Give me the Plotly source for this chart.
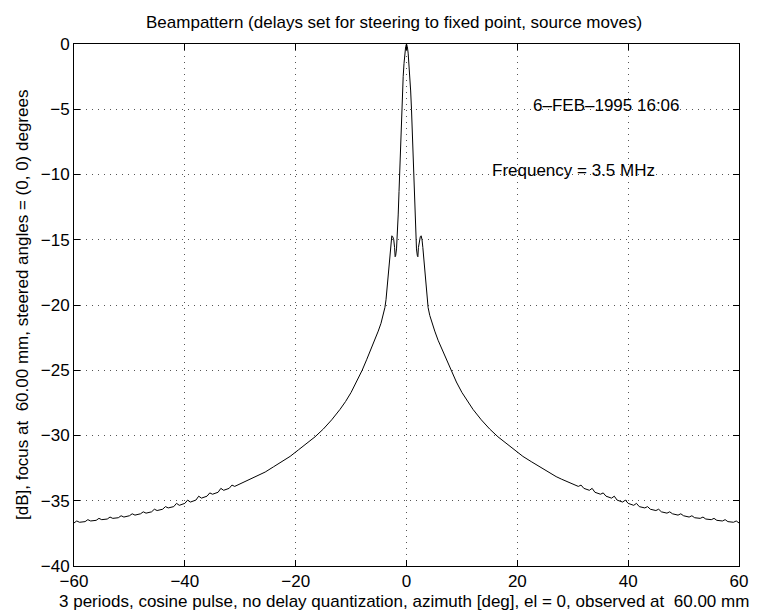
import plotly.graph_objects as go

# Left half of the beampattern (azimuth in degrees, level in dB)
az_left = [-60, -59.5, -59, -58, -57.5, -57, -56, -55.5, -55, -54, -53.5, -53, -52, -51.5, -51,
           -50, -49.5, -49, -48, -47.5, -47, -46, -45.5, -45, -44, -43.5, -43, -42, -41.5, -41,
           -40, -39.5, -39, -38, -37.5, -37, -36, -35.5, -35, -34, -33.5, -33, -32, -31.5, -31,
           -30, -29, -28, -27, -25.5, -24, -22.5, -21, -19.5, -18, -16.5, -15, -13.5, -12, -11,
           -10, -9, -8, -7.2, -6.4, -5.7, -5.1, -4.6, -4.2, -3.9, -3.7, -3.5, -3.3, -3.1, -2.95,
           -2.8, -2.65, -2.5, -2.3, -2.15, -2.05, -1.95, -1.8, -1.65, -1.5, -1.35, -1.2, -1.05,
           -0.9, -0.75, -0.6, -0.45, -0.3, -0.15]
db_left = [-36.7, -36.55, -36.65, -36.6, -36.45, -36.55, -36.5, -36.35, -36.45, -36.4, -36.25,
           -36.35, -36.3, -36.15, -36.25, -36.15, -36.0, -36.1, -36.0, -35.85, -35.95, -35.85,
           -35.65, -35.75, -35.65, -35.45, -35.55, -35.45, -35.2, -35.35, -35.2, -34.95, -35.1,
           -34.95, -34.65, -34.8, -34.65, -34.4, -34.5, -34.35, -34.05, -34.2, -34.05, -33.8,
           -33.9, -33.7, -33.55, -33.35, -33.15, -32.8, -32.4, -32.0, -31.6, -31.1, -30.6, -30.1,
           -29.5, -28.8, -28.0, -27.4, -26.7, -25.9, -25.0, -24.2, -23.4, -22.7, -22.0, -21.4,
           -20.8, -20.2, -19.6, -18.7, -17.6, -16.4, -15.6, -15.0, -14.7, -14.75, -15.0, -15.6,
           -16.3, -16.2, -15.7, -14.7, -13.1, -11.3, -9.2, -7.0, -5.0, -3.6, -2.5, -1.5, -0.7, -0.2]

# Right half of the beampattern
az_right = [0, 0.15, 0.3, 0.45, 0.6, 0.75, 0.9, 1.05, 1.2, 1.35, 1.5, 1.65, 1.8, 1.95, 2.05,
            2.15, 2.3, 2.5, 2.65, 2.8, 2.95, 3.1, 3.3, 3.5, 3.7, 3.9, 4.2, 4.6, 5.1, 5.7, 6.4,
            7.2, 8, 9, 10, 11, 12, 13.5, 15, 16.5, 18, 19.5, 21, 22.5, 24, 25.5, 27, 28, 29, 30,
            31, 31.5, 32, 33, 33.5, 34, 35, 35.5, 36, 37, 37.5, 38, 39, 39.5, 40, 41, 41.5, 42,
            43, 43.5, 44, 45, 45.5, 46, 47, 47.5, 48, 49, 49.5, 50, 51, 51.5, 52, 53, 53.5, 54,
            55, 55.5, 56, 57, 57.5, 58, 59, 59.5, 60]
db_right = [0.0, -0.2, -0.7, -1.5, -2.5, -3.6, -5.0, -7.0, -9.2, -11.3, -13.1, -14.7, -15.7,
            -16.2, -16.3, -15.6, -15.0, -14.75, -14.7, -15.0, -15.6, -16.4, -17.6, -18.7, -19.6,
            -20.2, -20.8, -21.4, -22.0, -22.7, -23.4, -24.2, -25.0, -25.9, -26.7, -27.4, -28.0,
            -28.8, -29.5, -30.1, -30.6, -31.1, -31.6, -32.0, -32.4, -32.8, -33.15, -33.35, -33.55,
            -33.7, -33.9, -33.8, -34.05, -34.2, -34.05, -34.35, -34.5, -34.4, -34.65, -34.8,
            -34.65, -34.95, -35.1, -34.95, -35.2, -35.35, -35.2, -35.45, -35.55, -35.45, -35.65,
            -35.75, -35.65, -35.85, -35.95, -35.85, -36.0, -36.1, -36.0, -36.15, -36.25, -36.15,
            -36.3, -36.35, -36.25, -36.4, -36.45, -36.35, -36.5, -36.55, -36.45, -36.6, -36.65,
            -36.55, -36.7]

x_ticks = [-60, -40, -20, 0, 20, 40, 60]
y_ticks = [0, -5, -10, -15, -20, -25, -30, -35, -40]

title_text = "Beampattern (delays set for steering to fixed point, source moves)"
x_label = "3 periods, cosine pulse, no delay quantization, azimuth [deg], el = 0, observed at\u00a0\u00a060.00 mm"
y_label = "[dB], focus at\u00a0\u00a060.00 mm, steered angles = (0, 0) degrees"
date_text = "6\u2013FEB\u20131995 16:06"
freq_text = "Frequency = 3.5 MHz"

FONT = "Liberation Sans, Arial, Helvetica, sans-serif"
FS = 17

fig = go.Figure()
fig.add_trace(go.Scatter(
    x=az_left + az_right, y=db_left + db_right, mode="lines",
    line=dict(color="black", width=1), showlegend=False, hoverinfo="skip"))

axis_common = dict(
    showline=True, linecolor="black", linewidth=1, mirror="ticks",
    ticks="inside", ticklen=6, tickcolor="black", tickwidth=1,
    showgrid=True, gridcolor="#555555", gridwidth=1, griddash="1px,5px",
    zeroline=False, tickfont=dict(family=FONT, size=FS, color="black"),
)

fig.update_layout(
    width=766, height=610,
    margin=dict(l=66, r=35, t=36, b=52),
    paper_bgcolor="white", plot_bgcolor="white",
    font=dict(family=FONT, size=FS, color="black"),
    title=dict(text=title_text, x=0.504, xref="container", y=1 - 14 / 610,
               yref="container", xanchor="center", yanchor="middle",
               font=dict(family=FONT, size=FS, color="black")),
    xaxis=dict(range=[-60, 60], tickvals=x_ticks, **axis_common),
    yaxis=dict(range=[-40, 0], tickvals=y_ticks, **axis_common),
)

fig.add_annotation(text=x_label, xref="paper", yref="paper", x=(396 - 66) / 665,
                   y=(558 - 593) / 522, xanchor="center", yanchor="middle",
                   showarrow=False, font=dict(family=FONT, size=FS, color="black"))
fig.add_annotation(text=y_label, xref="paper", yref="paper", x=(14 - 66) / 665,
                   y=0.5, xanchor="center", yanchor="middle", textangle=-90,
                   showarrow=False, font=dict(family=FONT, size=FS, color="black"))
fig.add_annotation(text=date_text, xref="x", yref="y", x=22.5, y=-4.75,
                   xanchor="left", yanchor="middle", showarrow=False,
                   font=dict(family=FONT, size=FS, color="black"))
fig.add_annotation(text=freq_text, xref="x", yref="y", x=15.07, y=-9.66,
                   xanchor="left", yanchor="middle", showarrow=False,
                   font=dict(family=FONT, size=FS, color="black"))

fig.write_html("out.html")
